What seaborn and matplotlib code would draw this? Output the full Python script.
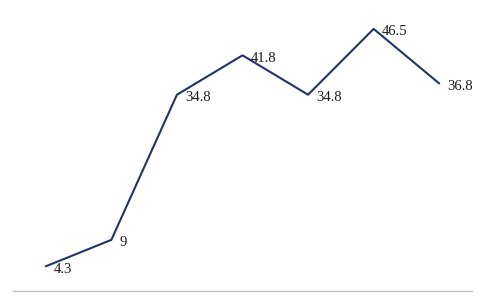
import matplotlib
matplotlib.use("Agg")
import matplotlib.pyplot as plt
import seaborn as sns
import pandas as pd

categories = ["1", "2", "3", "4", "5", "6", "7"]
values = [4.3, 9, 34.8, 41.8, 34.8, 46.5, 36.8]
labels = ["4.3", "9", "34.8", "41.8", "34.8", "46.5", "36.8"]

sns.set_style("white")
plt.rcParams['font.family'] = ['Liberation Serif', 'DejaVu Serif']

df = pd.DataFrame({"cat": range(len(categories)), "val": values})

fig = plt.figure(figsize=(5.0, 2.99), dpi=100)
ax = fig.add_axes([13/500, 1 - 290.5/299, (472-13)/500, (290.5-9.2)/299])
sns.lineplot(data=df, x="cat", y="val", ax=ax, color="#1f3468", linewidth=1.5)
ax.set_xlim(-0.5, len(categories) - 0.5)
ax.set_ylim(0, 50)
for i, (v, t) in enumerate(zip(values, labels)):
    ax.annotate(t, (i, v), xytext=(6, -2), textcoords="offset points",
                ha="left", va="center", fontsize=10.5, color="#1a1a1a")
for s in ["top", "left", "right"]:
    ax.spines[s].set_visible(False)
ax.spines["bottom"].set_color("#bfbfbf")
ax.spines["bottom"].set_linewidth(1.0)
ax.set_xticks([])
ax.set_yticks([])
ax.set_xlabel("")
ax.set_ylabel("")
ax.patch.set_alpha(0)
fig.savefig("out.png", dpi=100)
